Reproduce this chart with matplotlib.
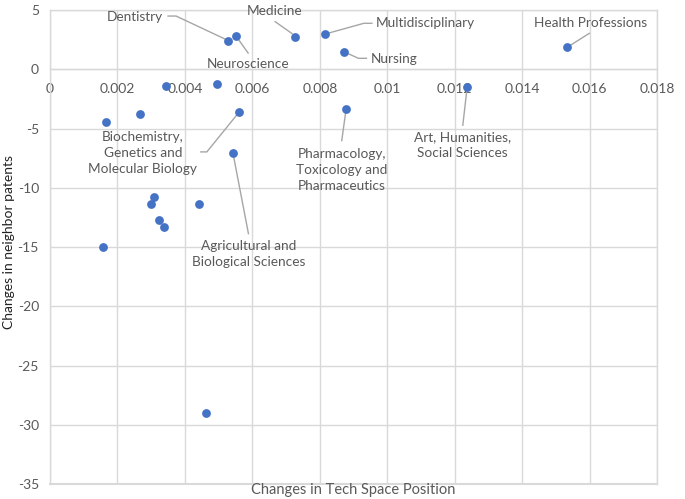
import matplotlib.pyplot as plt

# data
tech_change = [0.00528, 0.00552, 0.00727, 0.00815, 0.00873, 0.01534, 0.01236,
               0.00877, 0.00560, 0.00544, 0.00344, 0.00496, 0.00165, 0.00267,
               0.00309, 0.00299, 0.00443, 0.00323, 0.00338, 0.00158, 0.00464]
neighbor_change = [2.38, 2.80, 2.75, 2.95, 1.43, 1.85, -1.52,
                   -3.33, -3.60, -7.04, -1.41, -1.27, -4.43, -3.80,
                   -10.8, -11.4, -11.35, -12.72, -13.34, -14.97, -29.03]
labels = ["Dentistry", "Neuroscience", "Medicine", "Multidisciplinary", "Nursing",
          "Health Professions", "Art, Humanities,\nSocial Sciences",
          "Pharmacology,\nToxicology and\nPharmaceutics",
          "Biochemistry,\nGenetics and\nMolecular Biology",
          "Agricultural and\nBiological Sciences"]
x_ticks = [0, 0.002, 0.004, 0.006, 0.008, 0.01, 0.012, 0.014, 0.016, 0.018]
x_tick_labels = ["0", "0.002", "0.004", "0.006", "0.008", "0.01", "0.012", "0.014", "0.016", "0.018"]
y_ticks = [5, 0, -5, -10, -15, -20, -25, -30, -35]
y_tick_labels = ["5", "0", "-5", "-10", "-15", "-20", "-25", "-30", "-35"]

# label placement: text centre and leader vertices, in screen pixels relative to the point
text_off = [(-93, -24), (12, 28), (-21, -26), (100, -11), (50, 7), (23, -24),
            (-4, 58), (-4, 61), (-96, 41), (15, 101)]
leader_off = [[(-60, -25), (-52, -25), (-3, -2)],
              [(12, 17), (2, 3)],
              [(-20, -15), (-3, -3)],
              [(47, -11), (39, -11), (3, -1)],
              [(22, 6), (14, 6), (3, 1)],
              [(22, -14), (3, -2)],
              [(-4, 38), (0, 3)],
              [(-4, 32), (0, 3)],
              [(-38, 40), (-32, 40), (-2, 3)],
              [(15, 81), (0, 3)]]

GRAY = "#595959"
GRID = "#d9d9d9"
plt.rcParams['font.family'] = ['Lato', 'DejaVu Sans']

fig = plt.figure(figsize=(6.85, 4.99), dpi=100)
ax = fig.add_axes([50 / 685, 1 - 484 / 499, 607 / 685, 474 / 499])
ax.set_xlim(0, 0.018)
ax.set_ylim(-35, 5)
sx = 0.018 / 607
sy = 40 / 474

ax.set_axisbelow(True)
ax.grid(True, color=GRID, linewidth=1)
for s in ["top", "right"]:
    ax.spines[s].set_visible(False)
ax.spines["left"].set_color(GRID)
ax.spines["bottom"].set_color(GRID)
ax.spines["bottom"].set_position(("data", 0))
ax.spines["left"].set_linewidth(1)
ax.spines["bottom"].set_linewidth(1)
ax.axhline(5, color=GRID, linewidth=1, zorder=0.5, clip_on=False)
ax.axhline(-35, color=GRID, linewidth=1.5, zorder=0.5, clip_on=False)
ax.axvline(0.018, color=GRID, linewidth=1, zorder=0.5, clip_on=False)

ax.set_xticks(x_ticks)
ax.set_xticklabels(x_tick_labels)
ax.set_yticks(y_ticks)
ax.set_yticklabels(y_tick_labels)
ax.tick_params(axis="both", length=0, colors=GRAY, labelsize=10)
ax.tick_params(axis="x", pad=10)
ax.tick_params(axis="y", pad=8)

ax.scatter(tech_change, neighbor_change, s=40, color="#4472C4", zorder=5, linewidths=0)

for i, lab in enumerate(labels):
    px, py = tech_change[i], neighbor_change[i]
    xs = [px + dx * sx for dx, dy in leader_off[i]]
    ys = [py - dy * sy for dx, dy in leader_off[i]]
    ax.plot(xs, ys, color="#a6a6a6", linewidth=1, zorder=4, clip_on=False)
    tx = px + text_off[i][0] * sx
    ty = py - text_off[i][1] * sy
    ax.text(tx, ty, lab, ha="center", va="center", fontsize=9.8, color=GRAY,
            linespacing=1.4, zorder=6, clip_on=False)

fig.text(353 / 685, 1 - 490 / 499, "Changes in Tech Space Position", ha="center", va="center",
         fontsize=10.5, color=GRAY)
fig.text(9 / 685, 1 - 242 / 499, "Changes in neighbor patents", ha="center", va="center",
         rotation=90, fontsize=10, color="#222222")

fig.savefig("out.png", dpi=100)
